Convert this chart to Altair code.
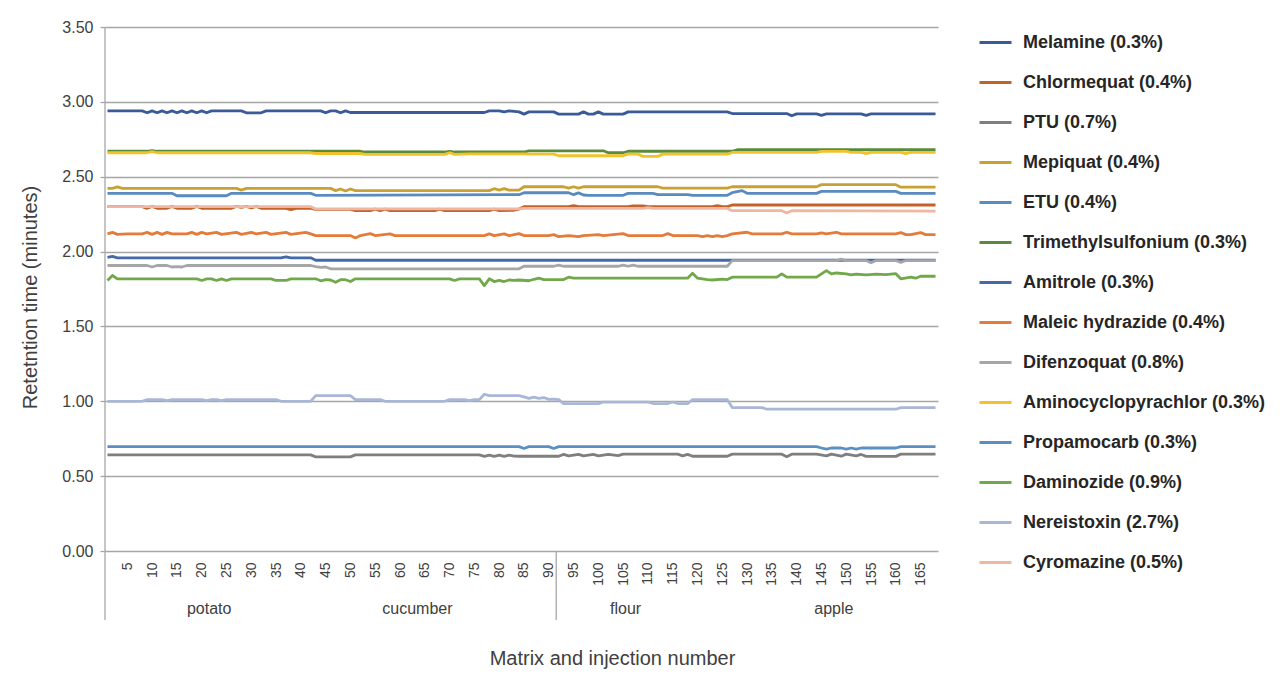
import altair as alt
import pandas as pd

# ---------------- data ----------------
LABELS = [
    "Melamine (0.3%)", "Chlormequat (0.4%)", "PTU (0.7%)", "Mepiquat (0.4%)",
    "ETU (0.4%)", "Trimethylsulfonium (0.3%)", "Amitrole (0.3%)",
    "Maleic hydrazide (0.4%)", "Difenzoquat (0.8%)", "Aminocyclopyrachlor (0.3%)",
    "Propamocarb (0.3%)", "Daminozide (0.9%)", "Nereistoxin (2.7%)", "Cyromazine (0.5%)",
]
COLORS = [
    "#3A5A98", "#C5622A", "#7F7F7F", "#C9A033", "#5A8BC0", "#5A8A3A", "#4569A8",
    "#E57B39", "#A6A6A6", "#F2C22A", "#5B8FC4", "#70A84A", "#A9B7D7", "#EFB6A2",
]

MELAMINE = [(1,2.94),(8,2.94),(9,2.927),(10,2.94),(11,2.927),(12,2.94),(13,2.927),(14,2.94),(15,2.927),
            (16,2.94),(17,2.927),(18,2.94),(19,2.927),(20,2.94),(21,2.927),(22,2.94),(28,2.94),(29,2.927),
            (32,2.927),(33,2.94),(44,2.94),(45,2.927),(46,2.94),(47,2.94),(48,2.927),(49,2.94),(50,2.929),
            (77,2.929),(78,2.94),(80,2.94),(81,2.933),(82,2.94),(84,2.933),(85,2.918),(86,2.933),(91,2.933),
            (92,2.918),(96,2.918),(97,2.933),(98,2.918),(99,2.918),(100,2.933),(101,2.918),(105,2.918),
            (106,2.933),(126,2.933),(127,2.922),(138,2.922),(139,2.907),(140,2.92),(144,2.92),(145,2.91),
            (146,2.92),(153,2.92),(154,2.91),(155,2.92),(168,2.92)]
CHLORMEQUAT = [(1,2.30),(8,2.30),(9,2.289),(10,2.302),(11,2.289),(13,2.289),(14,2.302),(15,2.289),(18,2.289),
               (19,2.302),(20,2.289),(26,2.289),(27,2.302),(28,2.296),(29,2.302),(30,2.292),(31,2.302),
               (32,2.289),(37,2.289),(38,2.28),(39,2.289),(42,2.289),(43,2.282),(50,2.282),(51,2.273),
               (54,2.273),(55,2.284),(56,2.273),(57,2.284),(58,2.273),(67,2.273),(68,2.284),(69,2.273),
               (78,2.273),(79,2.284),(80,2.273),(83,2.276),(84,2.284),(85,2.30),(94,2.30),(95,2.307),
               (96,2.30),(106,2.30),(107,2.305),(109,2.305),(110,2.30),(123,2.30),(124,2.307),(125,2.30),
               (126,2.30),(127,2.311),(168,2.311)]
PTU = [(1,0.642),(42,0.642),(43,0.629),(50,0.629),(51,0.642),(76,0.642),(77,0.632),(78,0.64),(79,0.632),
       (80,0.64),(81,0.632),(82,0.64),(83,0.634),(84,0.633),(92,0.633),(93,0.645),(94,0.635),(96,0.645),
       (97,0.635),(99,0.645),(100,0.635),(102,0.645),(104,0.637),(105,0.647),(116,0.647),(117,0.635),
       (118,0.645),(119,0.633),(126,0.633),(127,0.647),(137,0.647),(138,0.63),(139,0.647),(144,0.647),
       (146,0.635),(147,0.647),(149,0.633),(150,0.647),(152,0.635),(153,0.645),(154,0.632),(160,0.632),
       (161,0.647),(168,0.647)]
MEPIQUAT = [(1,2.422),(2,2.422),(3,2.432),(4,2.422),(27,2.422),(28,2.41),(29,2.422),(46,2.422),(47,2.407),
            (48,2.418),(49,2.405),(50,2.418),(51,2.407),(78,2.407),(79,2.42),(80,2.41),(81,2.42),(82,2.41),
            (84,2.41),(85,2.433),(93,2.433),(94,2.424),(95,2.433),(96,2.424),(97,2.433),(112,2.433),
            (113,2.424),(126,2.424),(127,2.433),(144,2.433),(145,2.447),(160,2.447),(161,2.43),(168,2.43)]
ETU = [(1,2.389),(14,2.389),(15,2.373),(25,2.373),(26,2.389),(42,2.389),(43,2.376),(84,2.38),(85,2.393),
       (94,2.393),(95,2.38),(96,2.392),(97,2.378),(98,2.376),(105,2.376),(106,2.389),(111,2.389),(112,2.38),
       (118,2.38),(119,2.376),(126,2.376),(127,2.393),(129,2.407),(130,2.389),(144,2.389),(145,2.402),
       (160,2.402),(161,2.389),(168,2.389)]
TRIMETHYLSULFONIUM = [(1,2.67),(9,2.67),(10,2.675),(11,2.67),(52,2.67),(53,2.665),(69,2.665),(70,2.67),
                      (71,2.665),(85,2.665),(86,2.673),(101,2.673),(102,2.66),(105,2.66),(106,2.67),
                      (127,2.67),(128,2.68),(168,2.68)]
AMITROLE = [(1,1.962),(2,1.968),(3,1.958),(36,1.958),(37,1.965),(38,1.958),(42,1.958),(43,1.942),(168,1.942)]
MALEIC_HYDRAZIDE = [(1,2.118),(2,2.128),(3,2.115),(5,2.118),(8,2.118),(9,2.128),(10,2.115),(11,2.128),
                    (12,2.115),(13,2.128),(14,2.118),(17,2.118),(18,2.128),(19,2.115),(20,2.128),(21,2.118),
                    (23,2.128),(24,2.115),(27,2.128),(28,2.115),(30,2.128),(31,2.118),(33,2.128),(34,2.115),
                    (37,2.128),(38,2.115),(41,2.128),(42,2.118),(43,2.107),(50,2.107),(51,2.091),(52,2.107),
                    (54,2.12),(55,2.107),(58,2.118),(59,2.107),(77,2.107),(78,2.118),(79,2.107),(81,2.118),
                    (82,2.107),(84,2.12),(85,2.107),(90,2.107),(91,2.113),(92,2.1),(94,2.107),(96,2.1),
                    (97,2.107),(100,2.113),(101,2.107),(105,2.12),(106,2.107),(113,2.107),(114,2.12),
                    (115,2.107),(120,2.107),(121,2.1),(122,2.107),(123,2.1),(124,2.107),(125,2.1),(126,2.107),
                    (127,2.118),(130,2.129),(131,2.118),(137,2.118),(138,2.129),(139,2.118),(144,2.118),
                    (145,2.125),(146,2.118),(148,2.129),(149,2.118),(160,2.118),(161,2.127),(162,2.113),
                    (163,2.113),(165,2.127),(166,2.113),(168,2.113)]
DIFENZOQUAT = [(1,1.907),(9,1.907),(10,1.897),(11,1.907),(13,1.907),(14,1.897),(15,1.9),(16,1.897),(17,1.907),
               (42,1.907),(43,1.9),(44,1.895),(45,1.897),(46,1.885),(84,1.885),(85,1.902),(91,1.902),(92,1.91),
               (93,1.902),(104,1.902),(105,1.91),(106,1.902),(107,1.91),(108,1.902),(126,1.902),(127,1.94),
               (148,1.94),(149,1.95),(150,1.94),(154,1.94),(155,1.925),(156,1.94),(160,1.94),(161,1.928),
               (162,1.94),(168,1.94)]
AMINOCYCLOPYRACHLOR = [(1,2.66),(9,2.66),(10,2.668),(11,2.66),(42,2.66),(43,2.655),(52,2.655),(53,2.649),
                       (69,2.649),(70,2.66),(71,2.649),(74,2.652),(85,2.652),(86,2.651),(91,2.651),(92,2.64),
                       (105,2.64),(106,2.651),(108,2.651),(109,2.636),(112,2.636),(113,2.651),(126,2.651),
                       (127,2.662),(144,2.662),(145,2.669),(150,2.669),(151,2.662),(153,2.662),(154,2.655),
                       (155,2.662),(161,2.662),(162,2.655),(163,2.662),(168,2.662)]
PROPAMOCARB = [(1,0.697),(84,0.697),(85,0.685),(86,0.697),(90,0.697),(91,0.685),(92,0.697),(144,0.697),
               (145,0.688),(146,0.68),(147,0.688),(149,0.688),(150,0.68),(151,0.688),(152,0.68),(153,0.688),
               (160,0.688),(161,0.697),(168,0.697)]
DAMINOZIDE = [(1,1.807),(2,1.84),(3,1.818),(19,1.818),(20,1.807),(21,1.818),(22,1.818),(23,1.807),(24,1.818),
              (25,1.807),(26,1.818),(34,1.818),(35,1.807),(37,1.807),(38,1.818),(43,1.818),(44,1.805),
              (45,1.812),(46,1.81),(47,1.795),(48,1.812),(49,1.812),(50,1.8),(51,1.818),(70,1.818),(71,1.807),
              (72,1.818),(76,1.818),(77,1.773),(78,1.818),(79,1.80),(80,1.807),(81,1.80),(82,1.81),(83,1.807),
              (84,1.81),(86,1.805),(87,1.815),(88,1.822),(89,1.813),(93,1.813),(94,1.829),(95,1.822),
              (118,1.822),(119,1.855),(120,1.822),(122,1.813),(123,1.81),(125,1.816),(126,1.813),(127,1.829),
              (136,1.829),(137,1.851),(138,1.829),(144,1.829),(146,1.873),(147,1.851),(148,1.857),(150,1.851),
              (151,1.844),(152,1.85),(154,1.844),(156,1.85),(158,1.846),(160,1.852),(161,1.818),(163,1.83),
              (164,1.822),(165,1.835),(168,1.835)]
NEREISTOXIN = [(1,1.0),(8,1.0),(9,1.011),(12,1.011),(13,1.004),(14,1.011),(20,1.011),(21,1.004),(22,1.011),
               (23,1.011),(24,1.004),(25,1.011),(35,1.011),(36,1.0),(42,1.0),(43,1.038),(50,1.038),(51,1.011),
               (56,1.011),(57,1.0),(69,1.0),(70,1.011),(73,1.011),(74,1.004),(75,1.011),(76,1.011),(77,1.047),
               (78,1.038),(84,1.038),(85,1.03),(86,1.02),(87,1.028),(88,1.02),(89,1.025),(90,1.013),(91,1.015),
               (92,1.011),(93,0.984),(100,0.984),(101,0.995),(110,0.995),(111,0.985),(114,0.985),(115,0.995),
               (116,0.985),(118,0.985),(119,1.011),(126,1.011),(127,0.958),(133,0.958),(134,0.947),(160,0.947),
               (161,0.958),(168,0.958)]
CYROMAZINE = [(1,2.30),(42,2.30),(43,2.285),(84,2.285),(85,2.288),(109,2.288),(110,2.294),(111,2.288),
              (126,2.288),(127,2.273),(137,2.273),(138,2.258),(139,2.273),(168,2.27)]

SERIES = [MELAMINE, CHLORMEQUAT, PTU, MEPIQUAT, ETU, TRIMETHYLSULFONIUM, AMITROLE, MALEIC_HYDRAZIDE,
          DIFENZOQUAT, AMINOCYCLOPYRACHLOR, PROPAMOCARB, DAMINOZIDE, NEREISTOXIN, CYROMAZINE]

MATRICES = ["potato", "cucumber", "flour", "apple"]
MATRIX_FIRST = [1, 43, 85, 127]
MATRIX_LAST = [42, 84, 126, 168]
SEPARATOR = [91.5]
X_TICKS = list(range(5, 166, 5))
Y_TICKS = [0.0, 0.5, 1.0, 1.5, 2.0, 2.5, 3.0, 3.5]
N_INJ = 168

# ---------------- build tables ----------------
rows = []
for k, (lab, pts) in enumerate(zip(LABELS, SERIES)):
    for inj, v in pts:
        rows.append({"inj": inj, "rt": v, "compound": lab, "k": k})
df = pd.DataFrame(rows)

groups = pd.DataFrame({
    "name": MATRICES,
    "inj": [(a + b) / 2 for a, b in zip(MATRIX_FIRST, MATRIX_LAST)],
})
seps = pd.DataFrame({"inj": SEPARATOR})
edge = pd.DataFrame({"inj": [0.5]})

W, H = 833, 524
FONT = "Liberation Sans"
TXT = "#404040"
GRID = "#A6A6A6"
XTITLE = "Matrix and injection number"

x_scale = alt.Scale(domain=[0.5, N_INJ + 0.5], nice=False, zero=False)
x_axis = alt.Axis(
    values=X_TICKS, labelAngle=270, ticks=False, grid=False, domain=False,
    labelFontSize=14, labelColor=TXT, labelPadding=11, labelFont=FONT,
    title=XTITLE, titleFontSize=20, titleFontWeight="normal", titleColor=TXT,
    titleFont=FONT, titleX=507, titleY=107, titleBaseline="middle", titleAlign="center",
)
y_scale = alt.Scale(domain=[0, 3.5], nice=False)
y_axis = alt.Axis(
    values=Y_TICKS, format=".2f", grid=True, gridColor=GRID, gridWidth=1.3,
    domain=False, ticks=True, tickSize=5, tickColor=GRID, tickWidth=1.3,
    labelFontSize=16, labelColor=TXT, labelPadding=7, labelFont=FONT,
    title="Retetntion time (minutes)", titleFontSize=20, titleFontWeight="normal",
    titleColor=TXT, titleFont=FONT, titleX=-75, titleY=270, titleBaseline="middle",
    titleAlign="center", titleAngle=270,
)

lines = alt.Chart(df).mark_line(strokeWidth=2.8, strokeJoin="round").encode(
    x=alt.X("inj:Q", scale=x_scale, axis=x_axis),
    y=alt.Y("rt:Q", scale=y_scale, axis=y_axis),
    color=alt.Color(
        "compound:N",
        scale=alt.Scale(domain=LABELS, range=COLORS),
        sort=LABELS,
        legend=alt.Legend(
            title=None, orient="none", legendX=873, legendY=-2,
            symbolType="stroke", symbolSize=1024, symbolStrokeWidth=3,
            labelFontSize=18, labelFontWeight="bold", labelColor="#262626",
            labelFont=FONT, labelOffset=10, rowPadding=13, padding=0, labelLimit=400,
        ),
    ),
    detail="k:O",
    order="inj:Q",
)

left_edge = alt.Chart(edge).mark_rule(color=GRID, strokeWidth=1.3).encode(
    x=alt.X("inj:Q", scale=x_scale, axis=x_axis),
    y=alt.value(0), y2=alt.value(593),
)
sep_rule = alt.Chart(seps).mark_rule(color=GRID, strokeWidth=1.3).encode(
    x=alt.X("inj:Q", scale=x_scale, axis=x_axis),
    y=alt.value(H), y2=alt.value(593),
)
group_text = alt.Chart(groups).mark_text(
    fontSize=16, color=TXT, font=FONT, baseline="middle", align="center"
).encode(
    x=alt.X("inj:Q", scale=x_scale, axis=x_axis),
    y=alt.value(582),
    text="name:N",
)

chart = alt.layer(lines, left_edge, sep_rule, group_text).properties(
    width=W, height=H,
    autosize=alt.AutoSizeParams(type="none"),
    padding={"left": 97, "top": 19, "right": 330, "bottom": 128},
    background="white",
).configure(font=FONT).configure_view(stroke="transparent", strokeWidth=0)

chart.save("out.html", embed_options={"renderer": "svg", "actions": False})
